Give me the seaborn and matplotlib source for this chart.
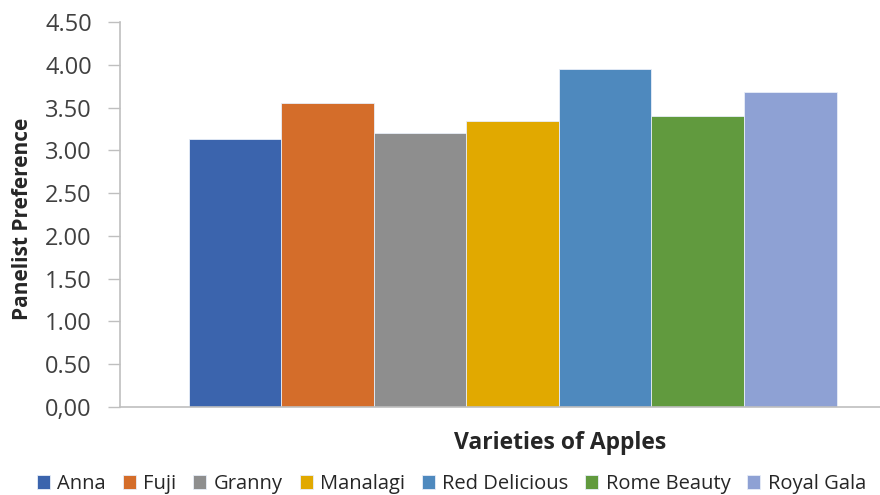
import numpy as np
import pandas as pd
import seaborn as sns
import matplotlib.pyplot as plt

# data
varieties = ['Anna', 'Fuji', 'Granny', 'Manalagi', 'Red Delicious', 'Rome Beauty', 'Royal Gala']
preference = [3.14, 3.55, 3.20, 3.35, 3.95, 3.40, 3.69]
colors = ['#3B64AD', '#D46D2A', '#8E8E8E', '#E1A900', '#4E89BE', '#619A3E', '#8EA1D4']
yticks = [0, 0.5, 1, 1.5, 2, 2.5, 3, 3.5, 4, 4.5]
ytick_labels = ['0,00', '0.50', '1.00', '1.50', '2.00', '2.50', '3.00', '3.50', '4.00', '4.50']

df = pd.DataFrame({'variety': varieties, 'pref': preference})

sns.set_style('white')
plt.rcParams['font.family'] = ['Open Sans', 'DejaVu Sans']

fig = plt.figure(figsize=(8.8, 4.95), dpi=100)
ax = fig.add_axes([0.136, 0.178, 0.864, 0.777])

sns.barplot(data=df, x='variety', y='pref', hue='variety', palette=colors,
            width=1, saturation=1, edgecolor='#e8eef8', linewidth=0.6,
            legend=True, ax=ax)

ax.set_xlim(-1.245, 6.97)
ax.set_ylim(0, 4.5)
ax.set_xticks([])
ax.set_yticks(yticks)
ax.set_yticklabels(ytick_labels, fontsize=17, color='#404040')
ax.tick_params(axis='y', length=9, width=1, color='#bfbfbf', left=True, pad=11)

for s in ['top', 'right']:
    ax.spines[s].set_visible(False)
for s in ['left', 'bottom']:
    ax.spines[s].set_color('#bfbfbf')
    ax.spines[s].set_linewidth(1.2)

ax.set_ylabel('Panelist Preference', fontsize=15, fontweight='bold')
ax.yaxis.set_label_coords(-0.114, 0.49)
ax.set_xlabel('Varieties of Apples', fontsize=16.5, fontweight='bold')
ax.xaxis.set_label_coords(0.579, -0.062)

handles, labels = ax.get_legend_handles_labels()
ax.get_legend().remove()
fig.legend(handles, labels, loc='center', bbox_to_anchor=(0.513, 0.022), ncol=7,
           frameon=False, fontsize=14.5, handlelength=0.65, handleheight=0.65,
           handletextpad=0.35, columnspacing=0.85, borderaxespad=0)

fig.savefig('out.png', dpi=100)
